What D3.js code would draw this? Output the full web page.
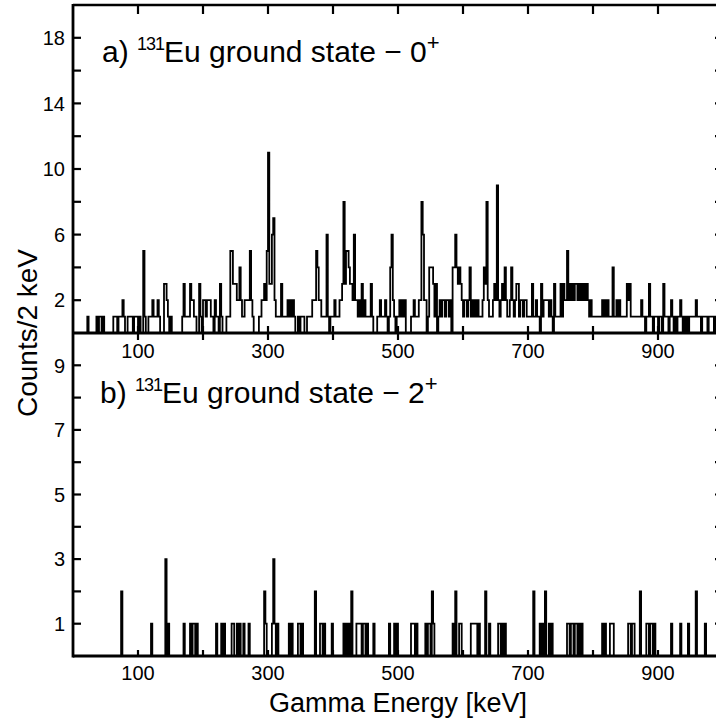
<!DOCTYPE html>
<html>
<head>
<meta charset="utf-8">
<script src="https://cdn.jsdelivr.net/npm/d3@7/dist/d3.min.js"></script>
<style>
  html, body { margin: 0; padding: 0; background: #fff; }
  svg { display: block; }
  text { font-family: "Liberation Sans", Arial, sans-serif; fill: #000; }
</style>
</head>
<body>
<svg id="chart" width="716" height="722"></svg>
<script>
// Gamma spectra in 2 keV bins: [bin start (keV), counts]; bins not listed are empty.
const spectrumA = [
  [22,1],[36,1],[40,1],[42,1],[46,1],
  [62,1],[64,1],[66,1],[70,1],[72,1],[74,1],[76,2],[78,1],
  [84,1],[86,1],[88,1],[90,1],[94,1],[96,1],[98,1],
  [102,1],[108,5],[110,1],
  [116,1],[118,1],[120,1],[122,2],[124,1],[126,1],[128,1],[130,2],[132,1],
  [140,3],[142,3],[144,2],[146,1],[150,1],
  [168,1],[170,3],[172,1],[174,1],[176,1],[178,1],[180,3],[182,2],[184,2],[186,1],[188,1],
  [194,3],[196,1],
  [200,2],[202,2],[204,1],[206,2],[208,2],[210,2],[212,1],[214,1],[218,2],[220,1],[222,1],[226,3],[228,1],
  [236,1],[238,1],[240,1],[242,5],[244,5],[246,3],[248,3],[250,3],[252,2],[254,2],[256,4],[258,2],[260,1],
  [262,1],[264,2],[266,2],[268,2],[270,2],[272,5],[274,2],[276,1],
  [286,1],[288,1],[290,2],[292,2],[294,3],[296,2],[298,5],[300,11],[302,3],[304,3],[306,6],[308,7],[310,2],[312,1],
  [314,1],[316,1],[318,1],[320,3],[322,1],[324,1],[326,1],[328,1],[330,2],[332,1],[334,2],[336,1],[338,2],[340,1],
  [346,1],[350,1],[352,1],[354,1],
  [360,1],[362,1],[364,1],[366,1],
  [368,2],[370,2],[372,2],[374,5],[376,4],[378,2],[380,2],[382,1],[384,1],[386,1],[388,1],[390,6],[392,1],
  [396,1],[398,1],[400,1],[402,2],[404,1],[406,1],[408,1],
  [410,2],[412,2],[414,3],[416,8],[418,3],[420,5],[422,5],[424,4],[426,3],[428,3],[430,2],[432,6],[434,2],[436,2],
  [438,1],[440,2],[442,1],[444,3],[446,1],[448,2],[450,1],[452,1],[454,1],[456,1],[458,3],[460,1],
  [468,1],[470,1],[472,2],[474,1],[476,1],[478,1],[480,2],[482,1],
  [486,1],[488,4],[490,6],[492,2],[494,1],
  [498,1],[500,1],[502,2],[504,1],[506,2],[508,1],[510,2],
  [520,1],[522,1],[524,2],[526,1],[528,1],[530,1],
  [532,2],[534,2],[536,8],[538,6],[540,2],[542,2],
  [546,1],[548,4],[550,4],[552,4],[554,3],[556,1],[558,3],
  [562,1],[564,2],[566,1],[568,2],[570,2],[572,1],[574,2],[576,2],[578,1],[580,2],
  [584,4],[586,4],[588,6],[590,4],[592,3],[594,4],[596,3],[598,2],
  [600,1],[602,2],[604,2],[606,1],[608,2],[610,4],[612,1],
  [614,2],[616,1],[618,2],[620,1],[622,2],[624,1],[626,1],
  [628,1],[630,2],[632,4],[634,3],[636,8],[638,2],[640,1],[642,1],[644,1],[646,2],[648,3],[650,2],
  [652,9],[654,2],[656,1],[658,2],[660,3],[662,2],[664,4],[666,2],[668,1],
  [670,1],[672,2],[674,4],[676,2],[678,1],[680,2],[682,3],[684,3],[686,1],[688,2],[690,2],[692,1],
  [694,2],[696,2],[698,1],[700,1],[702,1],[704,1],[706,3],[708,1],
  [710,1],[712,2],[714,1],[716,1],[720,3],[722,1],
  [724,2],[726,2],[728,2],[730,2],[732,1],[734,2],[736,1],
  [740,3],[742,1],[744,1],[746,1],[748,1],[750,3],[752,1],[754,3],[756,2],[758,2],[760,5],[762,2],
  [764,3],[766,2],[768,3],[770,2],[772,3],[774,3],[776,2],[778,3],[780,2],[782,3],[784,2],[786,3],[788,2],[790,3],[792,2],
  [794,1],[796,2],[798,1],
  [800,1],[802,1],[804,1],[806,1],[808,1],[810,1],[812,1],
  [814,2],[816,1],[818,2],[820,1],[822,2],[824,1],[826,1],
  [828,1],[830,4],[832,1],[834,1],
  [836,2],[838,1],[840,2],[842,1],[844,1],[846,1],
  [848,1],[850,1],[852,3],[854,2],[856,3],[858,1],
  [860,1],[862,1],[864,1],[866,1],[868,1],[870,1],[872,1],[874,2],[876,1],
  [878,1],[882,1],[884,1],[886,3],[888,1],
  [890,1],[894,1],[896,1],[898,1],[902,1],[904,1],[908,3],[910,1],
  [912,1],[914,1],[918,1],[920,2],[922,1],
  [926,1],[930,1],[932,1],[934,2],[936,1],
  [940,1],[944,1],[948,1],[950,1],[952,1],[954,1],[956,1],[958,2],[960,1],
  [962,1],[964,1],[968,1],[970,1],[972,1],[974,1],[978,1],[980,1],[982,1],[984,1],
  [988,1],[990,1],[992,1],[994,1],[996,1],[998,1]
];

const spectrumB = [
  [74,2],[120,1],[142,3],[146,1],[170,1],[180,1],[184,1],[186,1],[190,1],
  [220,1],[228,1],[232,1],[244,1],[246,1],[252,1],[256,1],[262,1],[270,1],
  [294,2],[296,1],[306,1],[308,3],[310,1],[314,1],
  [332,1],[336,1],[346,1],[348,1],[352,1],
  [372,2],[380,1],[382,1],[386,1],[398,1],
  [416,1],[420,1],[424,1],[428,2],[436,1],[438,1],[440,1],[442,1],[446,1],[448,1],[452,1],
  [462,1],[486,1],[494,1],[498,1],
  [520,1],[522,1],[524,1],[528,1],[542,1],[546,1],[548,1],[552,2],[554,1],
  [584,1],[588,2],[594,1],[596,1],
  [612,1],[614,1],[616,1],[618,1],[620,1],[624,1],[634,2],[640,1],[654,1],
  [656,1],[660,1],[664,1],[708,2],[718,1],[722,1],[726,2],[732,1],[736,1],
  [760,1],[762,1],[766,1],[768,1],[772,1],[774,1],[778,1],[782,1],
  [814,1],[818,1],[826,1],[828,1],[830,1],
  [854,1],[856,1],[860,1],[862,1],[872,2],
  [882,1],[884,1],[888,1],[890,1],[894,1],
  [920,1],[934,1],[946,1],[958,2],[972,1]
];

const binWidth = 2;
const energyDomain = [0, 1000];
const xTicks = [100, 200, 300, 400, 500, 600, 700, 800, 900];
const xTickLabels = [100, 300, 500, 700, 900];
const yDomainA = [0, 20];
const yTicksA = [2, 4, 6, 8, 10, 12, 14, 16, 18];
const yLabelsA = [2, 6, 10, 14, 18];
const yDomainB = [0, 10];
const yTicksB = [1, 2, 3, 4, 5, 6, 7, 8, 9];
const yLabelsB = [1, 3, 5, 7, 9];

const svg = d3.select("#chart");

// plot frame edges
const edgeLeft = 73, edgeRight = 723, edgeTop = 5, edgeMid = 333, edgeBottom = 656;

const x = d3.scaleLinear().domain(energyDomain).range([edgeLeft, edgeRight]);
const yA = d3.scaleLinear().domain(yDomainA).range([edgeMid, edgeTop]);
const yB = d3.scaleLinear().domain(yDomainB).range([edgeBottom, edgeMid]);

// expand the sparse list into a full set of bins
function fullBins(spectrum) {
  const m = new Map(spectrum);
  const bins = d3.range(energyDomain[0], energyDomain[1], binWidth).map(e => [e, m.get(e) || 0]);
  bins.push([energyDomain[1], 0]);
  return bins;
}

function drawHistogram(spectrum, y) {
  const line = d3.line()
    .x(d => x(d[0]))
    .y(d => y(d[1]))
    .curve(d3.curveStepAfter);
  svg.append("path")
    .datum(fullBins(spectrum))
    .attr("d", line)
    .attr("fill", "none")
    .attr("stroke", "#000")
    .attr("stroke-width", 1.8)
    .attr("stroke-linejoin", "miter");
}

drawHistogram(spectrumA, yA);
drawHistogram(spectrumB, yB);

// axis ticks (all inward)
function vTicks(y, ticks, x0, dir, len) {
  svg.append("g").selectAll("line").data(ticks).join("line")
    .attr("x1", x0).attr("x2", x0 + dir * len)
    .attr("y1", d => y(d)).attr("y2", d => y(d))
    .attr("stroke", "#000").attr("stroke-width", 2.2);
}
function hTicks(yPos, dir, len) {
  svg.append("g").selectAll("line").data(xTicks).join("line")
    .attr("x1", d => x(d)).attr("x2", d => x(d))
    .attr("y1", yPos).attr("y2", yPos + dir * len)
    .attr("stroke", "#000").attr("stroke-width", 2.2);
}
vTicks(yA, yTicksA, edgeLeft, 1, 8);
vTicks(yA, yTicksA, edgeRight, -1, 8);
vTicks(yB, yTicksB, edgeLeft, 1, 8);
vTicks(yB, yTicksB, edgeRight, -1, 8);
hTicks(edgeTop, 1, 9);
hTicks(edgeMid, 1, 7);
hTicks(edgeMid, -1, 7);
hTicks(edgeBottom, -1, 6);

// frame
const frame = svg.append("g").attr("stroke", "#000").attr("fill", "none");
frame.append("line").attr("x1", edgeLeft).attr("x2", edgeRight).attr("y1", edgeTop).attr("y2", edgeTop).attr("stroke-width", 2.5);
frame.append("line").attr("x1", edgeLeft).attr("x2", edgeRight).attr("y1", edgeMid).attr("y2", edgeMid).attr("stroke-width", 3);
frame.append("line").attr("x1", edgeLeft).attr("x2", edgeRight).attr("y1", edgeBottom).attr("y2", edgeBottom).attr("stroke-width", 3);
frame.append("line").attr("x1", edgeLeft).attr("x2", edgeLeft).attr("y1", edgeTop - 1).attr("y2", edgeBottom + 1.5).attr("stroke-width", 2.8);
frame.append("line").attr("x1", edgeRight).attr("x2", edgeRight).attr("y1", edgeTop - 1).attr("y2", edgeBottom + 1.5).attr("stroke-width", 2.8);

// tick labels
function yLabels(y, labels) {
  svg.append("g").selectAll("text").data(labels).join("text")
    .attr("x", edgeLeft - 8)
    .attr("y", d => y(d))
    .attr("dy", "0.36em")
    .attr("text-anchor", "end")
    .attr("font-size", 20)
    .text(d => d);
}
yLabels(yA, yLabelsA);
yLabels(yB, yLabelsB);

function xLabels(baseline) {
  svg.append("g").selectAll("text").data(xTickLabels).join("text")
    .attr("x", d => x(d))
    .attr("y", baseline)
    .attr("text-anchor", "middle")
    .attr("font-size", 20)
    .text(d => d);
}
xLabels(358);
xLabels(680);

// axis titles
svg.append("text")
  .attr("x", (edgeLeft + edgeRight) / 2)
  .attr("y", 712)
  .attr("text-anchor", "middle")
  .attr("font-size", 27)
  .text("Gamma Energy [keV]");

svg.append("text")
  .attr("transform", `translate(37, ${edgeMid}) rotate(-90)`)
  .attr("text-anchor", "middle")
  .attr("font-size", 28)
  .text("Counts/2 keV");

// panel captions
function caption(xPos, yPos, letter, spin) {
  const t = svg.append("text").attr("x", xPos).attr("y", yPos).attr("font-size", 30);
  t.append("tspan").text(letter + ") ");
  t.append("tspan").attr("font-size", 18).attr("dy", -12).attr("letter-spacing", -1).text("131");
  t.append("tspan").attr("dy", 12).text("Eu ground state \u2212 " + spin);
  t.append("tspan").attr("font-size", 22).attr("dy", -12).text("+");
}
caption(102, 62, "a", "0");
caption(100, 403, "b", "2");
</script>
</body>
</html>
